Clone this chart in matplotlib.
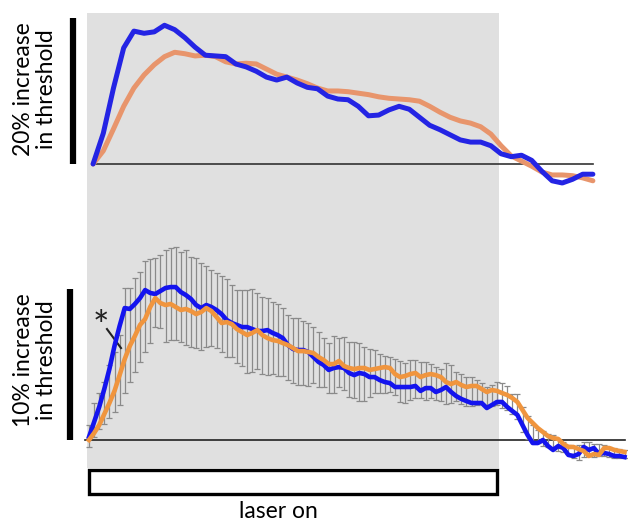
import matplotlib.pyplot as plt
import numpy as np
from matplotlib.patches import Rectangle

plt.rcParams['font.family'] = ['Lato', 'DejaVu Sans']

# laser period (s) and sampling
laser_on = (0.0, 40.0)

# top panel: smoothed traces, % increase in threshold, one point per second
t_top = np.arange(50) * 1.0 + 0.4
top_blue = [0.0, 4.2, 10.4, 15.9, 18.2, 17.9, 18.1, 19.0, 18.4, 17.3,
            16.0, 14.9, 14.8, 14.7, 13.7, 13.3, 12.7, 11.9, 11.5, 11.9,
            11.1, 10.5, 10.3, 9.3, 8.9, 8.8, 7.9, 6.6, 6.7, 7.4,
            7.9, 7.5, 6.4, 5.3, 4.7, 4.0, 3.3, 3.0, 3.0, 2.5,
            1.4, 1.0, 1.2, 0.5, -1.0, -2.3, -2.6, -2.1, -1.4, -1.4]
top_orange = [0.0, 1.8, 4.8, 7.9, 10.4, 12.2, 13.6, 14.7, 15.3, 15.1,
              14.8, 14.9, 14.7, 14.0, 13.7, 13.8, 13.7, 13.0, 12.3, 11.9,
              11.5, 11.0, 10.4, 10.0, 10.0, 9.9, 9.7, 9.5, 9.2, 9.0,
              8.9, 8.8, 8.6, 7.9, 7.1, 6.4, 5.9, 5.6, 5.1, 4.1,
              2.5, 1.1, 0.4, -0.3, -1.1, -1.5, -1.5, -1.6, -1.9, -2.3]

# bottom panel: raw traces with error bars, every 0.5 s
t_bot = np.arange(106) * 0.5
bot_blue = [0.20, 1.19, 2.19, 3.38, 4.70, 6.23, 7.55, 8.74, 8.68, 9.01,
            9.40, 9.93, 9.74, 9.67, 9.87, 10.07, 10.13, 10.13, 9.80, 9.60,
            9.34, 8.94, 8.74, 8.94, 8.81, 8.61, 8.34, 7.95, 7.75, 7.62,
            7.48, 7.48, 7.35, 7.22, 7.22, 7.28, 7.09, 6.95, 6.75, 6.29,
            6.03, 5.96, 5.96, 5.83, 5.50, 5.17, 4.97, 4.64, 4.77, 4.83,
            4.77, 4.44, 4.30, 4.44, 4.37, 4.17, 4.17, 3.97, 3.84, 3.77,
            3.51, 3.51, 3.51, 3.51, 3.58, 3.25, 3.44, 3.44, 3.18, 3.31,
            3.51, 3.18, 2.91, 2.72, 2.58, 2.45, 2.45, 2.45, 2.12, 2.32,
            2.52, 2.52, 2.19, 1.92, 1.66, 0.99, 0.33, -0.20, -0.20, 0.00,
            -0.40, -0.66, -0.40, -0.53, -0.99, -1.06, -0.93, -0.46, -0.66, -0.53,
            -0.93, -0.86, -0.93, -1.06, -1.06, -1.13]
bot_orange = [0.00, 0.46, 0.99, 1.72, 2.45, 3.25, 4.30, 5.36, 6.23, 6.89,
              7.62, 8.01, 8.81, 9.40, 9.07, 8.94, 9.01, 8.81, 8.61, 8.68,
              8.54, 8.34, 8.48, 8.74, 8.54, 8.15, 7.75, 7.81, 7.68, 7.35,
              7.15, 6.95, 7.09, 7.28, 6.95, 6.75, 6.62, 6.56, 6.42, 6.29,
              6.09, 5.89, 5.89, 5.83, 5.76, 5.50, 5.30, 5.03, 5.03, 5.23,
              4.90, 4.77, 4.70, 4.77, 4.77, 4.64, 4.70, 4.77, 4.83, 4.77,
              4.37, 4.17, 4.24, 4.37, 4.44, 4.17, 4.30, 4.37, 4.30, 4.17,
              3.84, 3.71, 3.84, 3.64, 3.51, 3.58, 3.58, 3.38, 3.18, 3.31,
              3.25, 3.11, 2.98, 2.78, 2.52, 1.99, 1.46, 1.13, 0.79, 0.53,
              0.26, 0.13, 0.07, -0.26, -0.46, -0.46, -0.60, -0.73, -1.06, -0.93,
              -0.99, -0.53, -0.53, -0.66, -0.73, -0.79]
err_hi = [0.99, 2.45, 3.11, 3.84, 4.97, 5.83, 6.95, 10.07, 10.07, 10.73,
          11.13, 11.85, 11.99, 12.05, 12.25, 12.58, 12.72, 12.78, 12.45, 12.58,
          12.12, 12.05, 11.72, 11.52, 11.26, 11.06, 10.86, 10.66, 10.26, 9.93,
          9.93, 9.93, 10.00, 9.74, 9.47, 9.40, 9.14, 9.01, 8.74, 8.28,
          8.08, 8.08, 7.88, 7.75, 7.48, 7.15, 6.75, 6.42, 6.89, 6.75,
          6.82, 6.49, 6.49, 6.42, 6.16, 6.03, 5.96, 5.70, 5.56, 5.50,
          5.36, 5.23, 5.10, 5.30, 5.30, 5.17, 5.17, 5.03, 4.83, 4.70,
          5.10, 4.97, 4.50, 4.37, 4.17, 4.17, 3.97, 3.77, 3.51, 3.64,
          3.84, 3.77, 3.58, 3.05, 3.05, 2.19, 1.59, 0.99, 0.66, 0.60,
          0.40, 0.33, 0.07, -0.13, -0.33, -0.46, -0.33, -0.13, -0.13, -0.26,
          -0.26, -0.33, -0.46, -0.53, -0.60, -0.66]
err_lo = [-0.46, 0.20, 0.73, 1.06, 1.46, 1.85, 2.32, 3.11, 3.84, 4.50,
          5.17, 5.83, 6.42, 7.48, 7.42, 6.49, 6.62, 6.62, 6.49, 6.29,
          6.16, 6.09, 5.96, 6.16, 6.23, 6.09, 5.83, 5.50, 5.50, 5.10,
          4.90, 4.44, 4.50, 4.70, 4.37, 4.30, 4.37, 4.24, 4.24, 3.97,
          3.77, 3.64, 3.64, 3.58, 3.77, 3.51, 3.51, 3.11, 3.11, 3.51,
          3.31, 2.85, 2.78, 2.58, 2.58, 2.85, 3.11, 3.11, 3.11, 3.18,
          2.98, 2.52, 2.45, 2.65, 2.78, 2.78, 2.65, 2.78, 2.65, 2.58,
          2.38, 2.45, 2.58, 2.38, 2.25, 2.25, 2.32, 2.38, 2.32, 2.25,
          2.32, 2.12, 1.99, 1.72, 1.39, 0.53, 0.07, -0.13, -0.20, -0.40,
          -0.46, -0.60, -0.73, -0.79, -0.93, -1.19, -1.32, -1.13, -1.06, -1.13,
          -1.06, -1.06, -1.13, -1.19, -1.19, -1.19]

gray = '#e0e0e0'
W, H = 628, 522
fig = plt.figure(figsize=(W / 100, H / 100), dpi=100)

xlim = (-89 / 10.2, (W - 89) / 10.2)
ax_top = fig.add_axes([0, (H - 230) / H, 1, 217 / H])
ax_bot = fig.add_axes([0, (H - 468) / H, 1, 238 / H])
ax_las = fig.add_axes([0, 0, 1, (H - 468) / H])
for ax in (ax_top, ax_bot, ax_las):
    ax.set_xlim(*xlim)
    ax.axis('off')
    ax.patch.set_alpha(0)
ax_top.set_ylim(-9.04, 20.68)
ax_bot.set_ylim(-1.854, 13.91)
ax_las.set_ylim(0, 1)

for ax in (ax_top, ax_bot):
    ax.axvspan(laser_on[0] - 0.2, laser_on[1] + 0.2, color=gray, lw=0, zorder=0)

# top panel
ax_top.plot([t_top[0], t_top[-1]], [0, 0], color='#333333', lw=1.2, zorder=1)
ax_top.plot(t_top, top_orange, color='#e8956c', lw=3.6, zorder=2,
            solid_capstyle='round', solid_joinstyle='round')
ax_top.plot(t_top, top_blue, color='#2424e4', lw=3.6, zorder=3,
            solid_capstyle='round', solid_joinstyle='round')
ax_top.plot([-1.57, -1.57], [0, 20], color='black', lw=4.5,
            solid_capstyle='butt', clip_on=False)
ax_top.text(-5.3, 10.3, '20% increase\nin threshold', rotation=90,
            ha='center', va='center', fontsize=16.5, linespacing=1.15)

# bottom panel
ax_bot.plot([-0.4, t_bot[-1]], [0, 0], color='#222222', lw=1.2, zorder=1)
ax_bot.vlines(t_bot, err_lo, err_hi, color='#8a8a8a', lw=0.9, zorder=2)
ax_bot.scatter(t_bot, err_hi, marker='_', s=14, color='#8a8a8a', lw=0.9, zorder=2)
ax_bot.scatter(t_bot, err_lo, marker='_', s=14, color='#8a8a8a', lw=0.9, zorder=2)
ax_bot.plot(t_bot, bot_blue, color='#1414ee', lw=3.3, zorder=3,
            solid_joinstyle='round')
ax_bot.plot(t_bot, bot_orange, color='#f0953e', lw=3.3, zorder=4,
            solid_joinstyle='round')
ax_bot.plot([-1.86, -1.86], [0, 10], color='black', lw=4.5,
            solid_capstyle='butt', clip_on=False)
ax_bot.text(-5.3, 5.3, '10% increase\nin threshold', rotation=90,
            ha='center', va='center', fontsize=16.5, linespacing=1.15)
# significance marker
ax_bot.text(1.2, 7.45, '*', ha='center', va='center', fontsize=28,
            color='#222222')
ax_bot.plot([1.76, 3.14], [7.35, 6.09], color='#222222', lw=1.5)

# laser bar
ax_las.add_patch(Rectangle((laser_on[0], 0.52), laser_on[1] - laser_on[0], 0.44,
                           facecolor='white', edgecolor='black', lw=2.4))
ax_las.text(18.6, 0.2, 'laser on', ha='center', va='center', fontsize=16.5)

fig.savefig('out.png', dpi=100)
